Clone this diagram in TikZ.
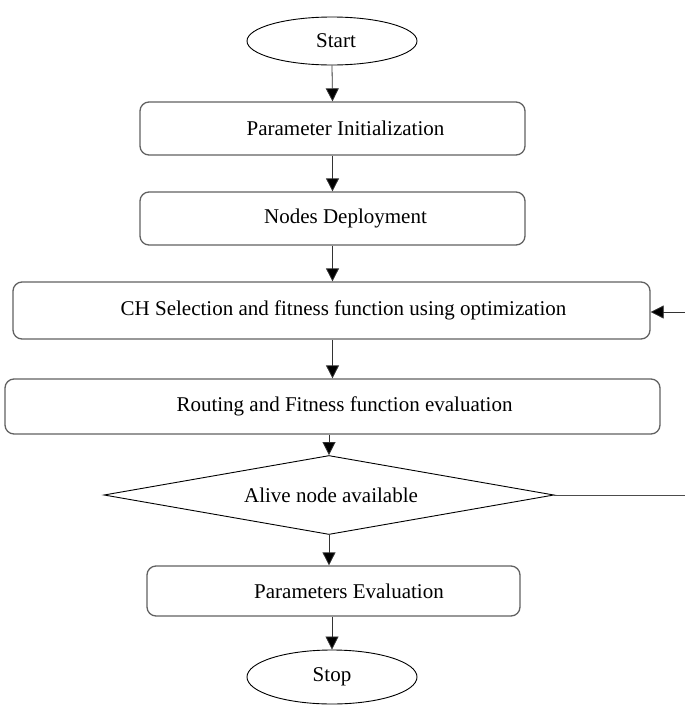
\documentclass[tikz,border=0pt]{standalone}
\usepackage{fontspec}
\setmainfont{Liberation Serif}
\usetikzlibrary{shapes.geometric,arrows.meta}
\tikzset{
  every node/.style={font=\fontsize{21}{25}\selectfont},
  terminal/.style={ellipse, draw=black, line width=0.9pt, inner sep=0pt},
  procbox/.style={rectangle, rounded corners=9pt, draw=black!62, line width=1.3pt, inner sep=0pt},
  decision/.style={diamond, draw=black, line width=0.9pt, inner sep=0pt, aspect=5.7},
  flow/.style={draw=black!80, line width=0.8pt, -{Triangle[length=13pt,width=13pt,fill=black]}},
  plainline/.style={draw=black!70, line width=0.8pt}
}
\begin{document}
\begin{tikzpicture}[x=1pt,y=-1pt]
\useasboundingbox (0,0) rectangle (685,705);
\node[terminal, minimum width=170pt, minimum height=48pt] (start) at (332,41) {\hspace*{8pt}Start};
\node[procbox, minimum width=385pt, minimum height=53pt] (init) at (332.5,128.5) {\hspace*{26pt}Parameter Initialization};
\node[procbox, minimum width=385pt, minimum height=53pt] (deploy) at (332.5,218.5) {\hspace*{26pt}Nodes Deployment};
\node[procbox, minimum width=637pt, minimum height=57pt] (ch) at (331.5,310.5) {\hspace*{24pt}CH Selection and fitness function using optimization};
\node[procbox, minimum width=655pt, minimum height=55pt] (route) at (332.5,406.5) {\hspace*{24pt}Routing and Fitness function evaluation};
\node[decision, minimum width=450pt, minimum height=79pt] (alive) at (329,495) {\hspace*{4pt}Alive node available};
\node[procbox, minimum width=373pt, minimum height=50pt] (pe) at (333.5,591) {\hspace*{31pt}Parameters Evaluation};
\node[terminal, minimum width=170pt, minimum height=54pt] (stop) at (332,677) {Stop};
\coordinate (fbR) at (685,495);
\coordinate (fbT) at (685,312);
\draw[flow] (start.south) -- (init.north);
\draw[flow] (init.south) -- (deploy.north);
\draw[flow] (deploy.south) -- (ch.north -| deploy.south);
\draw[flow] (ch.south -| deploy.south) -- (route.north);
\draw[flow] (route.south -| alive.north) -- (alive.north);
\draw[flow] (alive.south) -- (pe.north -| alive.south);
\draw[flow] (pe.south -| stop.north) -- (stop.north);
\draw[plainline] (alive.east) -- (fbR);
\draw[flow] (fbT) -- (ch.east |- fbT);
\end{tikzpicture}
\end{document}
